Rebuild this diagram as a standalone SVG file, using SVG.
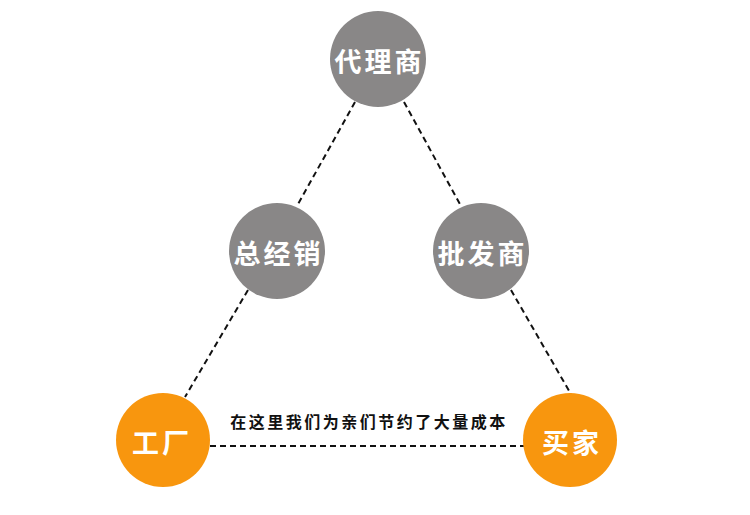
<svg xmlns="http://www.w3.org/2000/svg" width="750" height="515" viewBox="0 0 750 515">
<style>
.bg{fill:#ffffff}
.gray{fill:#898787}
.orange{fill:#F8960E}
.lbl{font-family:"Noto Sans CJK SC","Noto Sans",sans-serif;font-weight:bold;font-size:27px;fill:#ffffff;text-anchor:middle;dominant-baseline:central;letter-spacing:3px}
.conn{stroke:#111111;stroke-width:2;stroke-dasharray:6 4;fill:none}
.note{font-family:"Noto Sans CJK SC","Noto Sans",sans-serif;font-weight:bold;font-size:16px;fill:#111111;text-anchor:middle;letter-spacing:2.5px}
</style>
<rect class="bg" width="750" height="515"/>
<g id="connectors">
<line class="conn" x1="355" y1="102" x2="297" y2="206"/>
<line class="conn" x1="404" y1="102" x2="461" y2="206"/>
<line class="conn" x1="248" y1="290" x2="185" y2="397"/>
<line class="conn" x1="511" y1="290" x2="572" y2="396"/>
<line class="conn" x1="210" y1="446" x2="536" y2="446"/>
</g>
<g id="node-dailishang">
<circle class="gray" cx="378" cy="59" r="48"/>
<text class="lbl" x="379.5" y="60">代理商</text>
</g>
<g id="node-zongjingxiao">
<circle class="gray" cx="277" cy="251" r="48"/>
<text class="lbl" x="278.5" y="252">总经销</text>
</g>
<g id="node-pifashang">
<circle class="gray" cx="481" cy="251" r="48"/>
<text class="lbl" x="482.5" y="252">批发商</text>
</g>
<g id="node-gongchang">
<circle class="orange" cx="163" cy="440" r="47"/>
<text class="lbl" x="162" y="441">工厂</text>
</g>
<g id="node-maijia">
<circle class="orange" cx="570" cy="440" r="47"/>
<text class="lbl" x="572" y="441">买家</text>
</g>
<text class="note" x="369" y="428">在这里我们为亲们节约了大量成本</text>
</svg>
